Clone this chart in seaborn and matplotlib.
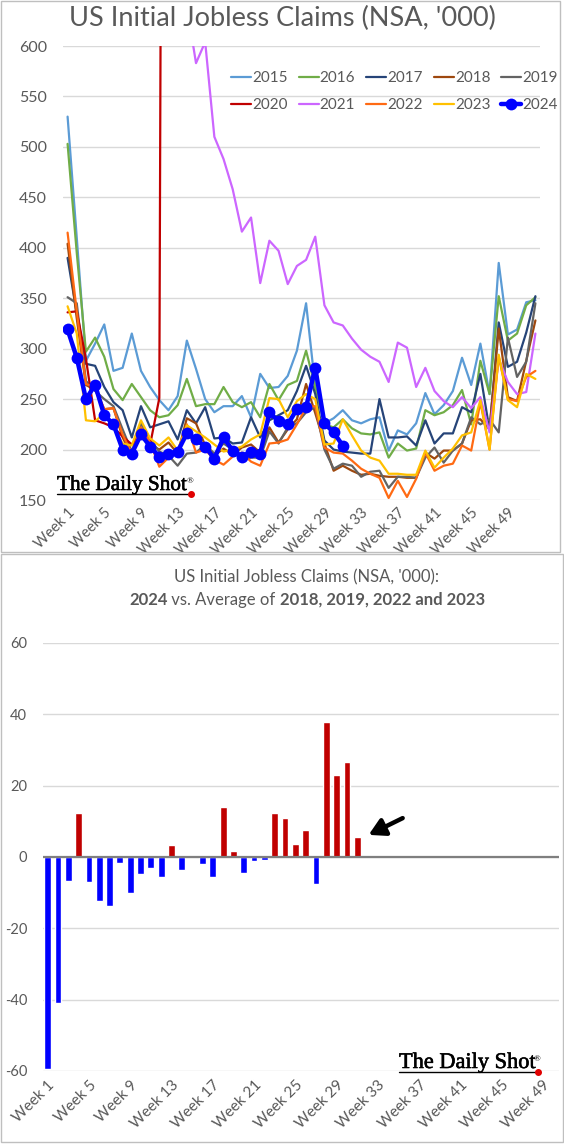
# plot.py - US initial jobless claims (NSA) by week, plus 2024 vs. average bars
import numpy as np
import pandas as pd
import matplotlib
matplotlib.use('Agg')
import matplotlib.pyplot as plt
import matplotlib.patheffects as pe
import seaborn as sns
from matplotlib.offsetbox import TextArea, HPacker, AnnotationBbox
from matplotlib.patches import Rectangle

# ---- data ('000 claims, week 1..52) ----
weeks = list(range(1, 53))

claims_2015 = [530, 410, 288, 305, 324, 278, 281, 315, 278, 262, 249, 239, 253, 308, 280, 250, 237, 243,
               243, 253, 232, 275, 261, 262, 273, 298, 345, 262, 226, 231, 239, 229, 226, 230, 232, 199,
               219, 215, 226, 256, 235, 244, 258, 291, 264, 305, 255, 385, 314, 319, 346, 348]
claims_2016 = [503, 395, 297, 311, 292, 260, 249, 265, 252, 239, 232, 234, 244, 270, 243, 245, 245, 262,
               247, 242, 247, 232, 265, 249, 264, 268, 298, 262, 225, 222, 230, 221, 216, 215, 217, 192,
               206, 199, 201, 239, 234, 237, 244, 259, 225, 288, 255, 352, 308, 315, 343, 351]
claims_2017 = [390, 335, 285, 283, 262, 247, 239, 212, 243, 222, 225, 228, 210, 239, 226, 242, 211, 212,
               206, 207, 232, 212, 229, 234, 239, 258, 283, 255, 209, 200, 198, 197, 196, 196, 250, 212,
               212, 213, 204, 229, 206, 216, 216, 242, 237, 275, 219, 326, 282, 287, 316, 352]
claims_2018 = [404, 330, 264, 259, 240, 241, 212, 194, 222, 205, 200, 207, 196, 231, 226, 204, 194, 201,
               195, 202, 205, 197, 222, 207, 220, 230, 265, 236, 206, 179, 184, 179, 175, 176, 174, 173,
               173, 172, 172, 197, 191, 199, 199, 206, 229, 230, 220, 320, 252, 248, 288, 328]
claims_2019 = [351, 345, 268, 258, 250, 243, 220, 198, 226, 210, 198, 194, 184, 196, 197, 205, 196, 206,
               200, 190, 192, 192, 218, 206, 222, 226, 237, 242, 200, 181, 186, 184, 173, 178, 179, 162,
               173, 173, 172, 192, 202, 187, 199, 206, 232, 225, 230, 217, 311, 272, 287, 345]
claims_2020 = [336, 337, 290, 229, 226, 222, 213, 205, 215, 205, 251, 2920, 6015, 6211, 4971, 4267, 3492,
               2849, 2544, 2174, 2016, 1696, 1608, 1453, 1426, 1426, 1337, 1501, 1377, 1190, 1191, 1040,
               1108, 995, 833, 858, 822, 830, 781, 790, 700, 740, 730, 750, 690, 720, 830, 720, 950, 880,
               870, 840]
claims_2021 = [1150, 960, 880, 820, 800, 830, 780, 750, 720, 690, 680, 660, 720, 640, 583, 604, 510, 488,
               458, 416, 430, 365, 407, 397, 364, 382, 388, 411, 343, 326, 323, 310, 299, 292, 287, 267,
               306, 301, 262, 281, 258, 248, 242, 252, 241, 252, 217, 290, 267, 255, 257, 315]
claims_2022 = [415, 337, 265, 262, 240, 241, 215, 196, 222, 207, 183, 192, 197, 225, 197, 200, 190, 185,
               193, 197, 188, 184, 206, 207, 210, 225, 242, 243, 202, 197, 196, 189, 181, 176, 172, 152,
               169, 153, 171, 197, 179, 184, 186, 204, 199, 247, 200, 292, 250, 248, 272, 278]
claims_2023 = [342, 315, 229, 228, 236, 222, 206, 204, 229, 211, 204, 212, 199, 224, 218, 212, 205, 198,
               200, 203, 210, 215, 251, 250, 232, 248, 255, 250, 205, 206, 230, 214, 199, 192, 189, 176,
               176, 175, 175, 199, 182, 192, 201, 214, 217, 249, 200, 294, 249, 242, 275, 270]
claims_2024 = [319, 291, 250, 264, 234, 225, 200, 196, 215, 203, 193, 196, 198, 216, 210, 203, 191, 212,
               199, 193, 198, 196, 237, 228, 225, 240, 242, 281, 226, 217, 204]

years = [2015, 2016, 2017, 2018, 2019, 2020, 2021, 2022, 2023, 2024]
series = [claims_2015, claims_2016, claims_2017, claims_2018, claims_2019,
          claims_2020, claims_2021, claims_2022, claims_2023, claims_2024]
colors = ['#5B9BD5', '#70AD47', '#264478', '#9E480E', '#636363',
          '#C00000', '#CC66FF', '#FF6A13', '#FFC000', '#0000FF']

# 2024 minus average of 2018, 2019, 2022, 2023
diff_weeks = list(range(1, 32))
diff_2024 = [-59.5, -40.8, -6.8, 12.4, -7.0, -12.3, -13.6, -1.6, -10.0, -4.9, -3.1, -5.5, 3.5, -3.6,
             0.0, -2.1, -5.5, 14.0, 1.8, -4.6, -1.0, -0.8, 12.3, 11.0, 3.7, 7.6, -7.7, 37.8, 22.9,
             26.5, 5.7]
bar_weeks_shown = list(range(1, 51))

# long format for seaborn
rows = []
for yr, vals in zip(years, series):
    for wk, v in zip(weeks, vals):
        rows.append({'year': yr, 'week': wk, 'claims': v})
df = pd.DataFrame(rows)

diff_df = pd.DataFrame({'week': [f'Week {w}' for w in diff_weeks], 'diff': diff_2024})
diff_df['dir'] = np.where(diff_df['diff'] >= 0, 'up', 'down')

# ---- style ----
sns.set_theme(style='white')
plt.rcParams['font.family'] = ['Lato', 'DejaVu Sans']
plt.rcParams['axes.unicode_minus'] = False
text_gray = '#595959'
grid_gray = '#D9D9D9'

W, H = 564, 1144
fig = plt.figure(figsize=(W / 100, H / 100), dpi=100)

def fx(px):
    return px / W

def fy(py):
    return 1 - py / H

# ---- top chart: weekly claims lines ----
ax1 = fig.add_axes([fx(63), fy(500), fx(477), 454 / H])
for yr, col in zip(years, colors):
    sub = df[df['year'] == yr]
    if yr == 2024:
        sns.lineplot(data=sub, x='week', y='claims', ax=ax1, color=col, lw=3.2, marker='o',
                     markersize=8.5, markeredgewidth=0, label=str(yr), estimator=None, zorder=5)
    else:
        sns.lineplot(data=sub, x='week', y='claims', ax=ax1, color=col, lw=1.6,
                     label=str(yr), estimator=None)

ax1.set_xlim(0.5, 52.5)
ax1.set_ylim(150, 600)
ax1.set_yticks(range(150, 601, 50))
ax1.set_xticks(range(1, 50, 4))
ax1.set_xticklabels([f'Week {w}' for w in range(1, 50, 4)], rotation=45, ha='right',
                    rotation_mode='anchor')
ax1.set_xlabel('')
ax1.set_ylabel('')
ax1.grid(axis='y', color=grid_gray, lw=1)
ax1.set_axisbelow(True)
for s in ax1.spines.values():
    s.set_visible(False)
ax1.tick_params(axis='y', length=0, pad=11.5, labelsize=11.5, labelcolor=text_gray)
ax1.tick_params(axis='x', length=0, pad=4, labelsize=10.5, labelcolor=text_gray)

# legend: two rows of five, filled column-wise
handles, labels = ax1.get_legend_handles_labels()
order = [0, 5, 1, 6, 2, 7, 3, 8, 4, 9]
ax1.legend([handles[i] for i in order], [labels[i] for i in order], ncol=5, frameon=False,
           loc='upper right', bbox_to_anchor=(fx(558), fy(71)), bbox_transform=fig.transFigure,
           fontsize=11, labelcolor=text_gray, handlelength=1.3, handletextpad=0.08,
           columnspacing=0.72, labelspacing=0.85, borderaxespad=0, borderpad=0)

fig.text(0.5, fy(18), "US Initial Jobless Claims (NSA, '000)", ha='center', va='center',
         fontsize=19.5, color=text_gray)

# ---- bottom chart: 2024 vs average bars ----
ax2 = fig.add_axes([fx(42.5), fy(1071), fx(516), 428 / H])
sns.barplot(data=diff_df, x='week', y='diff', hue='dir', order=[f'Week {w}' for w in bar_weeks_shown],
            palette={'up': '#C00000', 'down': '#0000FF'}, dodge=False, width=0.66,
            errorbar=None, legend=False, saturation=1, ax=ax2)
ax2.axhline(0, color='#7F7F7F', lw=1.6, zorder=3)
ax2.set_xlim(-0.5, len(bar_weeks_shown) - 0.5)
ax2.set_ylim(-60, 60)
ax2.set_yticks(range(-60, 61, 20))
tick_pos = list(range(0, 49, 4))
ax2.set_xticks(tick_pos)
ax2.set_xticklabels([f'Week {bar_weeks_shown[p]}' for p in tick_pos], rotation=45, ha='right',
                    rotation_mode='anchor')
ax2.set_xlabel('')
ax2.set_ylabel('')
ax2.grid(axis='y', color=grid_gray, lw=1)
ax2.set_axisbelow(True)
for s in ax2.spines.values():
    s.set_visible(False)
ax2.tick_params(axis='y', length=0, pad=11, labelsize=10.5, labelcolor=text_gray)
ax2.tick_params(axis='x', length=0, pad=5, labelsize=11, labelcolor=text_gray)

# arrow pointing at the latest bar
ax2.annotate('', xy=(31.1, 6.2), xytext=(34.4, 10.9), xycoords='data',
             arrowprops=dict(arrowstyle='-|>,head_length=0.8,head_width=0.45', color='black',
                             lw=3.2, shrinkA=0, shrinkB=0))

fig.text(fx(307), fy(577), "US Initial Jobless Claims (NSA, '000):", ha='center', va='center',
         fontsize=12, color=text_gray)
parts = [('2024', 'bold'), (' vs. Average of ', 'normal'), ('2018, 2019, 2022 and 2023', 'bold')]
boxes = [TextArea(t, textprops=dict(fontweight=w, fontsize=12, color=text_gray)) for t, w in parts]
pack = HPacker(children=boxes, align='baseline', pad=0, sep=0)
fig.add_artist(AnnotationBbox(pack, (fx(307), fy(600)), xycoords='figure fraction',
                              frameon=False, box_alignment=(0.5, 0.5)))

# ---- The Daily Shot logos ----
def daily_shot(x0, x1, base_y, size):
    fig.text(fx(x0), fy(base_y), 'The Daily Shot', fontsize=size, family='Liberation Serif',
             color='black', ha='left', va='baseline',
             path_effects=[pe.withStroke(linewidth=0.4, foreground='black')])
    fig.add_artist(plt.Line2D([fx(x0), fx(x1)], [fy(base_y + 4), fy(base_y + 4)],
                              color='black', lw=1))
    fig.add_artist(plt.Line2D([fx(x1 + 1)], [fy(base_y + 4)], marker='o', color='#E00000',
                              markersize=4, lw=0))
    fig.text(fx(x1 - 3), fy(base_y - 7), '®', fontsize=6.5, family='Liberation Serif',
             color='black', ha='left', va='baseline')

daily_shot(57, 190, 490, 15.3)
daily_shot(399, 537, 1068, 16.1)

# panel borders
fig.add_artist(Rectangle((fx(0.5), fy(552)), fx(559), 551 / H, fill=False, ec='#BFBFBF', lw=1))
fig.add_artist(Rectangle((fx(0.5), fy(1142)), fx(562), 588 / H, fill=False, ec='#BFBFBF', lw=1))

fig.savefig('out.png', dpi=100)
